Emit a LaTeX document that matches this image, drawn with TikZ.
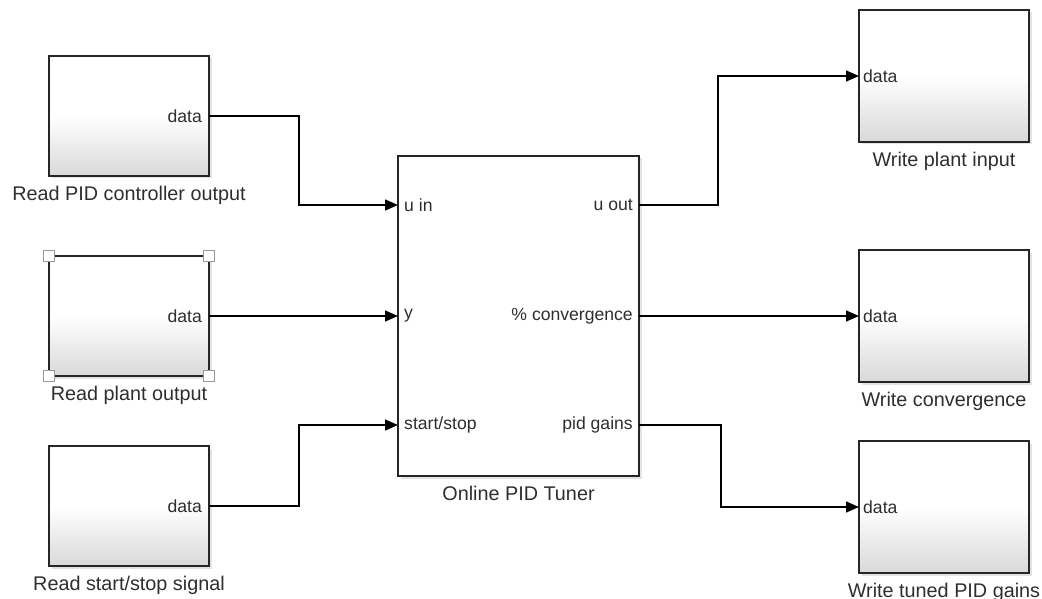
\documentclass[tikz,border=0pt]{standalone}
\usepackage{fontspec}
\setmainfont{Liberation Sans}
\usetikzlibrary{positioning,shadows,arrows.meta}

\begin{document}
\begin{tikzpicture}[x=1pt, y=-1pt]
	\tikzset{bloc/.style={draw=black!85, line width=1.6pt, outer sep=0pt, inner sep=0pt,
			top color=white, bottom color=black!15, middle color=white,
			drop shadow={opacity=0.22, shadow xshift=2.5pt, shadow yshift=-2.5pt}},
		fleche/.style={-{Triangle[length=13pt,width=11pt]}, line width=1.4pt},
		port/.style={inner sep=0pt, text=black!82, font=\fontsize{17.6}{17.6}\selectfont},
		titre/.style={inner sep=0pt, text=black!82, font=\fontsize{19.8}{19.8}\selectfont},
		poignee/.style={draw=black!40, fill=white, line width=1.3pt, minimum size=11pt, inner sep=0pt}};

	\useasboundingbox (0,0) rectangle (1042,599);

	% blocs de lecture
	\foreach \nom/\y/\texte in {lpid/116/Read PID controller output,
		lsortie/316/Read plant output, lsignal/506/{Read start/stop signal}}{
		\node[bloc, minimum width=160pt, minimum height=120pt] (\nom) at (129, \y) {};
		\node[port, anchor=east] (\nom-data) at ([xshift=-7pt]\nom.east) {data};
		\node[titre, below=10pt of \nom] (\nom-titre) {\texte};
	}

	% bloc selectionne
	\foreach \coin in {north west, north east, south west, south east}
		\node[poignee] (lsortie-\coin) at (lsortie.\coin) {};

	% tuner
	\node[draw=black!85, line width=1.6pt, outer sep=0pt, fill=white,
		drop shadow={opacity=0.22, shadow xshift=2.5pt, shadow yshift=-2.5pt},
		minimum width=241pt, minimum height=320pt] (pid) at (518.5, 316) {};
	\node[titre, below=10pt of pid] (pid-titre) {Online PID Tuner};
	\foreach \nom/\y/\entree/\sortie in {u/205/u in/u out, y/316/y/\% convergence,
		s/425/start\slash stop/pid gains}{
		\coordinate (pid-in-\nom) at (pid.west |- 0,\y);
		\coordinate (pid-out-\nom) at (pid.east |- 0,\y);
		\node[port, anchor=west] at ([xshift=6pt]pid-in-\nom) {\entree};
		\node[port, anchor=east] at ([xshift=-6pt]pid-out-\nom) {\sortie};
	}

	% blocs d'ecriture
	\foreach \nom/\y/\texte in {eplant/76/Write plant input,
		econv/316/Write convergence, egains/507/Write tuned PID gains}{
		\node[bloc, minimum width=170pt, minimum height=132pt] (\nom) at (944, \y) {};
		\node[port, anchor=west] (\nom-data) at ([xshift=4pt]\nom.west) {data};
		\node[titre, below=10pt of \nom] (\nom-titre) {\texte};
	}

	\draw[fleche] (lpid.east) -- ++(90,0) |- (pid-in-u);
	\draw[fleche] (lsortie.east) -- (pid-in-y);
	\draw[fleche] (lsignal.east) -- ++(90,0) |- (pid-in-s);
	\draw[fleche] (pid-out-u) -- ++(79,0) |- (eplant.west);
	\draw[fleche] (pid-out-y) -- (econv.west);
	\draw[fleche] (pid-out-s) -- ++(82,0) |- (egains.west);

\end{tikzpicture}
\end{document}
